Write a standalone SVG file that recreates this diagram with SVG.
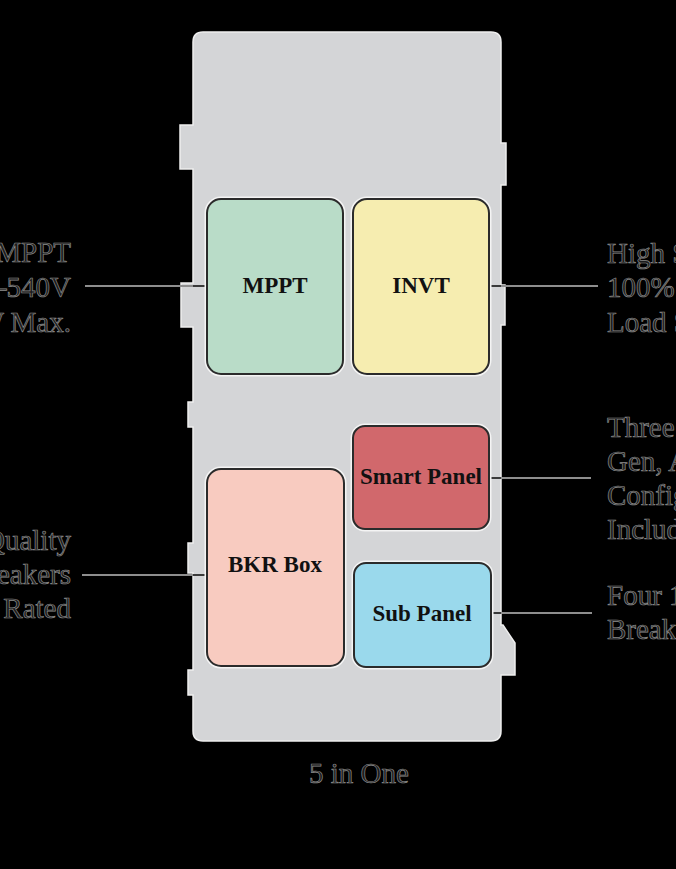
<svg xmlns="http://www.w3.org/2000/svg" width="676" height="869" viewBox="0 0 676 869">
<style>
.ext{font-family:"Liberation Serif","Times New Roman",serif;font-size:29px;fill:#1c1c1c;stroke:#8c8c8c;stroke-width:0.7}
.lbl{font-family:"Liberation Serif","Times New Roman",serif;font-size:23px;font-weight:bold;fill:#111;text-anchor:middle}
.box{stroke:#2b2b2b;stroke-width:2}
.halo{fill:none;stroke:#f4f4f4;stroke-width:5}
.ln{stroke:#8e8e8e;stroke-width:2;fill:none}
.lnd{stroke:#3a3a3a;stroke-width:2;fill:none}
</style>
<rect width="676" height="869" fill="#000"/>
<g id="enclosure">
<path d="M 203 32 H 491 Q 501 32 501 42 V 143 H 506 V 185 H 501 V 285 H 505 V 325 H 501 V 625 H 503 L 515 643 V 675 H 501 V 731 Q 501 741 491 741 H 203 Q 193 741 193 731 V 695 H 188 V 670 H 193 V 573 H 188 V 543 H 193 V 427 H 188 V 402 H 193 V 327 H 181 V 283 H 193 V 169 H 180 V 125 H 193 V 42 Q 193 32 203 32 Z" fill="#d4d5d7" stroke="#eeeeee" stroke-width="1.5"/>
</g>
<g id="connectors">
<path class="ln" d="M 85 286 H 193"/><path class="lnd" d="M 193 286 H 207"/>
<path class="lnd" d="M 489 286 H 501"/><path class="ln" d="M 501 286 H 598"/>
<path class="lnd" d="M 489 478 H 501"/><path class="ln" d="M 501 478 H 591"/>
<path class="ln" d="M 82 575 H 193"/><path class="lnd" d="M 193 575 H 207"/>
<path class="lnd" d="M 491 613 H 501"/><path class="ln" d="M 501 613 H 592"/>
</g>
<g id="mppt">
<rect class="halo" x="207" y="199" width="136" height="175" rx="14"/>
<rect class="box" x="207" y="199" width="136" height="175" rx="14" fill="#b9dcc8"/>
<text class="lbl" x="275" y="293">MPPT</text>
</g>
<g id="invt">
<rect class="halo" x="353" y="199" width="136" height="175" rx="14"/>
<rect class="box" x="353" y="199" width="136" height="175" rx="14" fill="#f6edb0"/>
<text class="lbl" x="421" y="293">INVT</text>
</g>
<g id="smart-panel">
<rect class="halo" x="353" y="426" width="136" height="103" rx="12"/>
<rect class="box" x="353" y="426" width="136" height="103" rx="12" fill="#d1686c"/>
<text class="lbl" x="421" y="484">Smart Panel</text>
</g>
<g id="bkr-box">
<rect class="halo" x="207" y="469" width="137" height="197" rx="14"/>
<rect class="box" x="207" y="469" width="137" height="197" rx="14" fill="#f8cbc0"/>
<text class="lbl" x="275" y="572">BKR Box</text>
</g>
<g id="sub-panel">
<rect class="halo" x="354" y="563" width="137" height="104" rx="12"/>
<rect class="box" x="354" y="563" width="137" height="104" rx="12" fill="#9ad9ec"/>
<text class="lbl" x="422" y="621">Sub Panel</text>
</g>
<g id="texts">
<text class="ext" x="71" y="262" text-anchor="end">MPPT</text>
<text class="ext" x="71" y="297" text-anchor="end">–540V</text>
<text class="ext" x="71" y="332" text-anchor="end">W Max.</text>
<text class="ext" x="607" y="263">High S</text>
<text class="ext" x="607" y="297">100%</text>
<text class="ext" x="607" y="332">Load S</text>
<text class="ext" x="607" y="437">Three</text>
<text class="ext" x="607" y="471">Gen, A</text>
<text class="ext" x="607" y="505">Config</text>
<text class="ext" x="607" y="539">Includ</text>
<text class="ext" x="71" y="550" text-anchor="end">Quality</text>
<text class="ext" x="71" y="584" text-anchor="end">eakers</text>
<text class="ext" x="71" y="618" text-anchor="end">Rated</text>
<text class="ext" x="607" y="605">Four 1</text>
<text class="ext" x="607" y="639">Break</text>
<text class="ext" x="359" y="783" text-anchor="middle">5 in One</text>
</g>
</svg>
